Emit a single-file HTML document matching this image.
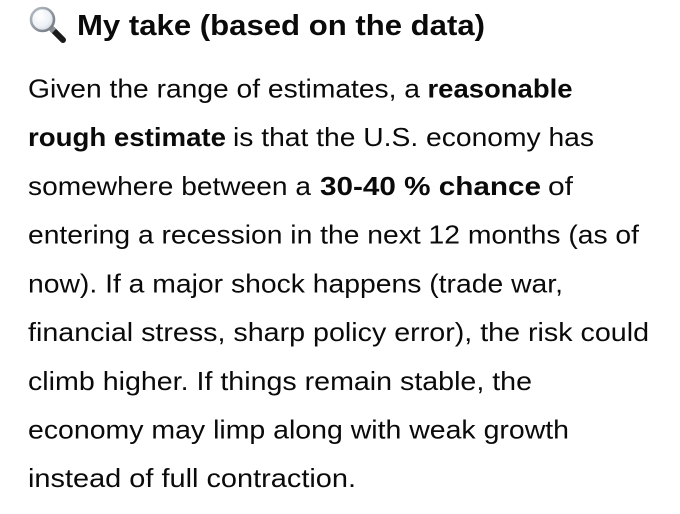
<!DOCTYPE html>
<html>
<head>
<meta charset="utf-8">
<style>
  html, body { margin: 0; padding: 0; background: #ffffff; }
  body { width: 680px; height: 514px; overflow: hidden; }
  svg { display: block; }
  text { font-family: "Liberation Sans", "DejaVu Sans", sans-serif; fill: #0a0a0a; }
  .r { font-size: 26px; font-weight: normal; }
  .b { font-size: 26px; font-weight: bold; }
  .h { font-size: 29px; font-weight: bold; }
</style>
</head>
<body>
<svg width="680" height="514" viewBox="0 0 680 514" xmlns="http://www.w3.org/2000/svg">
  <defs>
    <radialGradient id="lens" cx="0.4" cy="0.38" r="0.7">
      <stop offset="0" stop-color="#ffffff"/>
      <stop offset="0.6" stop-color="#eef2f6"/>
      <stop offset="1" stop-color="#c9d1da"/>
    </radialGradient>
    <linearGradient id="rim" x1="0" y1="0" x2="1" y2="1">
      <stop offset="0" stop-color="#b8bec6"/>
      <stop offset="1" stop-color="#6f757c"/>
    </linearGradient>
  </defs>

  <!-- magnifying glass icon -->
  <line x1="52.5" y1="29.5" x2="63" y2="40" stroke="#1a1a1a" stroke-width="6" stroke-linecap="round"/>
  <line x1="51" y1="28" x2="54" y2="31" stroke="#8a8f95" stroke-width="6" stroke-linecap="butt"/>
  <circle cx="42.5" cy="19.5" r="11.5" fill="url(#lens)" stroke="url(#rim)" stroke-width="2.6"/>
  <path d="M35.5 15.5 A8 8 0 0 1 42 11.5" fill="none" stroke="#ffffff" stroke-width="2" stroke-linecap="round" opacity="0.9"/>

  <!-- heading -->
  <text class="h" x="77" y="35" textLength="408" lengthAdjust="spacingAndGlyphs">My take (based on the data)</text>

  <!-- L1 -->
  <text class="r" x="28" y="97.5" textLength="392" lengthAdjust="spacingAndGlyphs">Given the range of estimates, a</text>
  <text class="b" x="427.5" y="97.5" textLength="145" lengthAdjust="spacingAndGlyphs">reasonable</text>

  <!-- L2 -->
  <text class="b" x="28" y="146" textLength="198" lengthAdjust="spacingAndGlyphs">rough estimate</text>
  <text class="r" x="233" y="146" textLength="361" lengthAdjust="spacingAndGlyphs">is that the U.S. economy has</text>

  <!-- L3 -->
  <text class="r" x="28" y="195" textLength="283" lengthAdjust="spacingAndGlyphs">somewhere between a</text>
  <text class="b" x="320" y="195" textLength="221" lengthAdjust="spacingAndGlyphs">30-40 % chance</text>
  <text class="r" x="548" y="195" textLength="25" lengthAdjust="spacingAndGlyphs">of</text>

  <!-- L4 -->
  <text class="r" x="28" y="243.5" textLength="611" lengthAdjust="spacingAndGlyphs">entering a recession in the next 12 months (as of</text>

  <!-- L5 -->
  <text class="r" x="28" y="292.5" textLength="535" lengthAdjust="spacingAndGlyphs">now). If a major shock happens (trade war,</text>

  <!-- L6 -->
  <text class="r" x="28" y="341" textLength="621" lengthAdjust="spacingAndGlyphs">financial stress, sharp policy error), the risk could</text>

  <!-- L7 -->
  <text class="r" x="28" y="390" textLength="504" lengthAdjust="spacingAndGlyphs">climb higher. If things remain stable, the</text>

  <!-- L8 -->
  <text class="r" x="28" y="438.5" textLength="541" lengthAdjust="spacingAndGlyphs">economy may limp along with weak growth</text>

  <!-- L9 -->
  <text class="r" x="28" y="487" textLength="328" lengthAdjust="spacingAndGlyphs">instead of full contraction.</text>
</svg>
</body>
</html>
